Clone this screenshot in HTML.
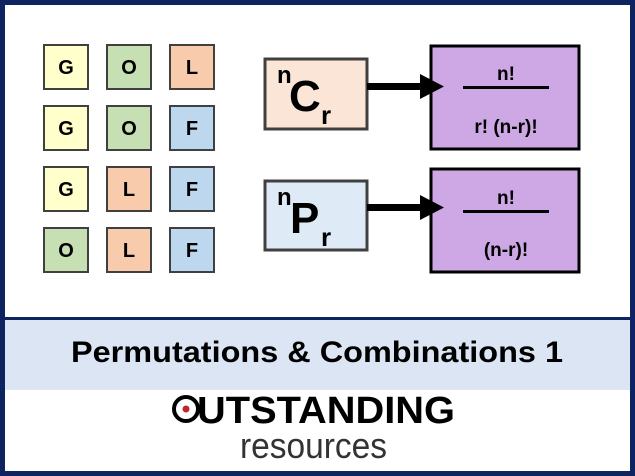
<!DOCTYPE html>
<html><head><style>html,body{margin:0;padding:0;background:#fff}svg{display:block}</style></head><body>
<svg width="635" height="476" viewBox="0 0 635 476" xmlns="http://www.w3.org/2000/svg" font-family="'Liberation Sans', sans-serif">
<rect x="0" y="0" width="635" height="476" fill="#0d2461"/>
<rect x="5" y="5" width="625" height="466" fill="#fff"/>
<rect x="5" y="317" width="625" height="3" fill="#0d2461"/>
<rect x="5" y="320" width="625" height="70" fill="#dbe5f3"/>
<g stroke="#404040" stroke-width="2">
<rect x="44" y="45" width="44" height="44" fill="#ffffcc"/><rect x="107" y="45" width="44" height="44" fill="#c6e0b4"/><rect x="170" y="45" width="44" height="44" fill="#f8cbad"/>
<rect x="44" y="106" width="44" height="44" fill="#ffffcc"/><rect x="107" y="106" width="44" height="44" fill="#c6e0b4"/><rect x="170" y="106" width="44" height="44" fill="#bdd7ee"/>
<rect x="44" y="167" width="44" height="44" fill="#ffffcc"/><rect x="107" y="167" width="44" height="44" fill="#f8cbad"/><rect x="170" y="167" width="44" height="44" fill="#bdd7ee"/>
<rect x="44" y="228" width="44" height="44" fill="#c6e0b4"/><rect x="107" y="228" width="44" height="44" fill="#f8cbad"/><rect x="170" y="228" width="44" height="44" fill="#bdd7ee"/>
</g>
<g font-weight="bold" font-size="20" text-anchor="middle" fill="#000">
<text x="66" y="74">G</text><text x="129" y="74">O</text><text x="192" y="74">L</text>
<text x="66" y="135">G</text><text x="129" y="135">O</text><text x="192" y="135">F</text>
<text x="66" y="196">G</text><text x="129" y="196">L</text><text x="192" y="196">F</text>
<text x="66" y="257">O</text><text x="129" y="257">L</text><text x="192" y="257">F</text>
</g>
<rect x="265" y="59" width="102" height="70" fill="#fbe5d6" stroke="#404040" stroke-width="3"/>
<rect x="265" y="181" width="102" height="69" fill="#deebf7" stroke="#404040" stroke-width="3"/>
<text x="289" y="111" font-weight="bold" font-size="44">C</text><text x="277" y="83" font-weight="bold" font-size="24">n</text><text x="321" y="124" font-weight="bold" font-size="26">r</text>
<text x="290" y="233" font-weight="bold" font-size="44">P</text><text x="277" y="205" font-weight="bold" font-size="24">n</text><text x="321" y="246" font-weight="bold" font-size="26">r</text>
<rect x="431" y="46" width="148" height="103" fill="#cda8e4" stroke="#000" stroke-width="3"/>
<rect x="431" y="169" width="148" height="103" fill="#cda8e4" stroke="#000" stroke-width="3"/>
<rect x="367" y="83" width="56" height="7" fill="#000"/><polygon points="420,74 444,86.5 420,99" fill="#000"/>
<rect x="367" y="204" width="56" height="7" fill="#000"/><polygon points="420,195 444,207.5 420,220" fill="#000"/>
<rect x="463" y="86" width="86" height="3" fill="#000"/><rect x="463" y="210" width="86" height="3" fill="#000"/>
<g font-weight="bold" font-size="19" text-anchor="middle">
<text x="506" y="80">n!</text><text x="506" y="133">r! (n-r)!</text>
<text x="506" y="204">n!</text><text x="506" y="256">(n-r)!</text>
</g>
<text x="317" y="362" font-weight="bold" font-size="30" text-anchor="middle" textLength="492" lengthAdjust="spacingAndGlyphs">Permutations &amp; Combinations 1</text>
<text x="197" y="423" font-weight="bold" font-size="38" textLength="258" lengthAdjust="spacingAndGlyphs">UTSTANDING</text>
<circle cx="186" cy="409" r="12" fill="none" stroke="#000" stroke-width="4"/>
<circle cx="186" cy="409" r="3.5" fill="#c0272d"/>
<text x="240" y="458" font-size="36" fill="#333" textLength="147" lengthAdjust="spacingAndGlyphs">resources</text>
</svg>
</body></html>
